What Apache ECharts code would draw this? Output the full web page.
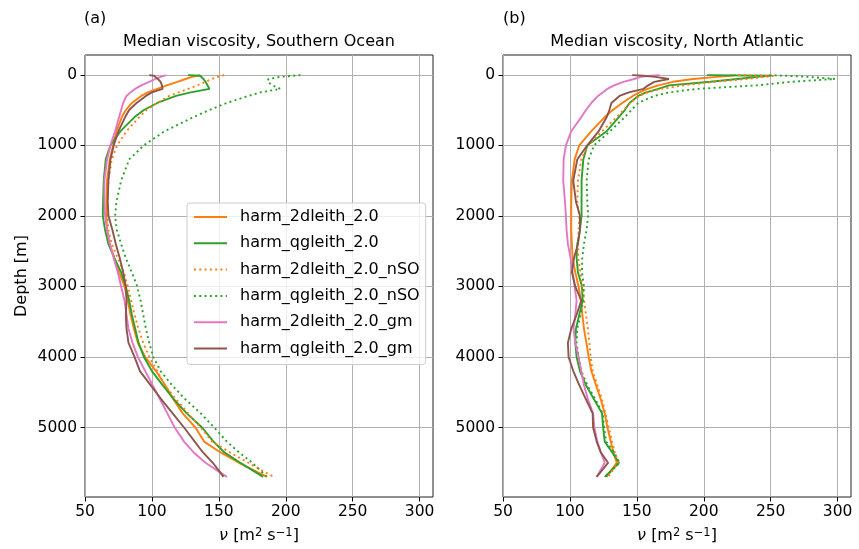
<!DOCTYPE html>
<html>
<head>
<meta charset="utf-8">
<script src="https://cdn.jsdelivr.net/npm/echarts@6/dist/echarts.min.js"></script>
<style>
  html, body { margin: 0; padding: 0; background: #fff; }
  #chart { width: 859px; height: 549px; }
</style>
</head>
<body>
<div id="chart"></div>
<script>
// depth levels [m], shared by all profiles
const depth = [5, 15, 30, 60, 100, 150, 200, 250, 300, 400, 500, 600, 800, 1000, 1200, 1500, 1800, 2000, 2200, 2400, 2600, 2800, 3000, 3200, 3400, 3600, 3800, 4000, 4200, 4400, 4600, 4800, 5000, 5200, 5350, 5500, 5700];

// Southern Ocean median viscosity [m2/s]
const so2d = [136, 134, 130, 125, 119, 111, 104, 97, 92, 85, 80.5, 77.5, 73.5, 71, 68.5, 66.5, 66, 66, 66.5, 68.5, 72, 75.5, 79.5, 82, 84, 86.5, 89.5, 95, 103, 110, 116, 123, 132.5, 139, 151, 165, 186];
const soQg = [127, 136, 137, 138.5, 140, 141.5, 143, 129, 118, 104, 94, 87, 76.5, 69, 65.5, 64, 63.5, 63.3, 65, 67.5, 72, 77, 80.5, 83, 85, 87.5, 90, 94, 100, 108, 116.5, 126, 137.5, 146, 154, 166, 183];
const so2dNso = [154, 152, 149, 145, 140, 134, 127, 120, 113, 104, 96, 90.5, 81, 74, 70, 67.5, 66.5, 66.5, 67.5, 70, 74.5, 79, 82, 84.5, 87, 90, 93.5, 98, 104, 109.5, 118, 127, 136.5, 145, 158, 172, 191];
const soQgNso = [211, 205, 196, 187, 186.5, 190, 196, 181, 172, 156, 143, 131, 109.5, 94, 83, 77, 73.5, 72.5, 73.8, 77, 80.5, 85, 89, 91.5, 93.5, 95.5, 98, 101, 106.5, 115, 125, 136.5, 146.5, 156, 165, 175, 186];
const so2dGm = [110.5, 109, 106.5, 102.5, 98, 92, 87.5, 84, 81, 78.5, 77, 75.5, 72.5, 69, 66.5, 64.5, 64.5, 65, 66.5, 68.5, 71.5, 74.5, 77, 79.5, 81, 82.5, 85.5, 89.5, 95, 100.5, 106, 111.5, 117, 124, 131, 140, 156];
const soQgGm = [98, 101.5, 102, 104.5, 106.5, 107.5, 108, 100, 95.5, 88.5, 83, 80, 75, 71.5, 69, 67.5, 67, 67.5, 70.5, 73, 76, 78.5, 80.5, 81, 80.5, 81, 82.5, 87, 91, 99, 107, 115.5, 124, 132, 138, 145.5, 153.5];

// North Atlantic median viscosity [m2/s]
const na2d = [224, 220, 210, 192, 177, 166, 158, 152, 147, 139, 132, 126, 116, 107, 103.5, 101.5, 101, 101, 101, 101.5, 102, 104, 106.5, 108.2, 109.3, 110.5, 112.3, 114, 116, 119.5, 123, 126, 128, 130.5, 132.5, 135, 127.3];
const naQg = [202.5, 249.5, 240, 225, 205, 174, 166, 157, 151, 144.5, 141, 136.5, 127.5, 113, 110, 108.7, 108.7, 108.7, 107.5, 105.5, 105, 106, 109, 109.5, 107, 104.5, 104, 105, 107.5, 112, 118, 124, 124.8, 126, 131.5, 136.7, 126];
const na2dNso = [226, 253, 246, 232, 208, 185, 168, 158, 152, 145, 140, 135, 124, 113.5, 108.5, 106, 105.5, 107, 106.5, 106, 106.3, 107.8, 109.2, 110.6, 112, 113.4, 114.5, 115.5, 117, 120.5, 124, 126.5, 129, 131.5, 133.5, 136, 128.5];
const naQgNso = [249, 262, 278, 298, 265, 240, 195, 174, 163, 151, 146, 141, 130, 118, 114, 112.5, 113, 113.6, 112.4, 110.5, 109.2, 109, 110.5, 110, 108, 105.5, 105, 106.5, 108.5, 113, 119, 124.5, 125.5, 127, 133, 137, 126.5];
const na2dGm = [167, 160, 153, 148, 140, 133, 128, 124.5, 121, 116, 112, 108.5, 101, 97, 95.3, 95, 96.3, 97, 97.5, 98.5, 100.5, 102, 103.5, 105, 104, 102.7, 104, 106.5, 108.5, 110.5, 113.5, 117.3, 118.3, 120.5, 123, 126, 120];
const naQgGm = [146.5, 155, 164, 174, 163, 158.5, 155, 144, 137, 131, 129.5, 127.5, 121.5, 113, 105.5, 102.5, 104.5, 107.5, 107.5, 106, 103, 101.5, 104, 108.5, 105, 101, 98.5, 99, 102.5, 107, 112, 117, 117.3, 120, 123, 128.5, 120];

const names = ["harm_2dleith_2.0", "harm_qgleith_2.0", "harm_2dleith_2.0_nSO", "harm_qgleith_2.0_nSO", "harm_2dleith_2.0_gm", "harm_qgleith_2.0_gm"];
const colors = ["#ff7f0e", "#2ca02c", "#ff7f0e", "#2ca02c", "#e377c2", "#8c564b"];
const dotted = [false, false, true, true, false, false];
const titles = ["Median viscosity, Southern Ocean", "Median viscosity, North Atlantic"];
const panels = ["(a)", "(b)"];
const xTickValues = [50, 100, 150, 200, 250, 300];
const yTickValues = [0, 1000, 2000, 3000, 4000, 5000];
const xRange = [50, 310];
const yRange = [-280, 5985];

const font = "DejaVu Sans";
const grids = [
  { left: 85, top: 55, width: 348, height: 445 },
  { left: 503, top: 55, width: 348, height: 445 },
];

function pairs(values) {
  return values.map((v, i) => [v, depth[i]]);
}

const profiles = [
  [so2d, soQg, so2dNso, soQgNso, so2dGm, soQgGm],
  [na2d, naQg, na2dNso, naQgNso, na2dGm, naQgGm],
];

const series = [];
profiles.forEach((set, g) => {
  set.forEach((vals, k) => {
    series.push({
      name: names[k],
      type: "line",
      xAxisIndex: g,
      yAxisIndex: g,
      data: pairs(vals),
      symbol: "none",
      color: colors[k],
      lineStyle: { width: 1.9, color: colors[k], type: dotted[k] ? [2, 3.3] : "solid" },
      emphasis: { disabled: true },
    });
  });
});

const txt = { fontFamily: font, color: "#000" };
const splitLine = { show: true, lineStyle: { color: "#b0b0b0", width: 1 } };
const tick = { show: true, inside: false, length: 4.5, lineStyle: { color: "#000", width: 1 } };
const plain = (v) => String(v);
// nu [m^2 s^-1] with real superscripts
const xName = "{it|ν} [m{sup|2} s{sup|−1}]";
const xNameStyle = {
  ...txt,
  fontSize: 16,
  rich: {
    it: { ...txt, fontSize: 16, fontStyle: "italic" },
    sup: { ...txt, fontSize: 11.5, verticalAlign: "top", padding: [0, 0, 6, 0] },
  },
};

const chart = echarts.init(document.getElementById("chart"));
chart.setOption({
  animation: false,
  title: [
    { text: titles[0], left: 259, top: 34, textAlign: "center", padding: 0, textStyle: { ...txt, fontSize: 16, fontWeight: "normal" } },
    { text: titles[1], left: 677, top: 34, textAlign: "center", padding: 0, textStyle: { ...txt, fontSize: 16, fontWeight: "normal" } },
    { text: panels[0], left: 84, top: 11, padding: 0, textStyle: { ...txt, fontSize: 16, fontWeight: "normal" } },
    { text: panels[1], left: 503, top: 11, padding: 0, textStyle: { ...txt, fontSize: 16, fontWeight: "normal" } },
  ],
  grid: grids.map((g) => ({ ...g, show: true, borderColor: "#222", borderWidth: 1, backgroundColor: "transparent" })),
  legend: {
    data: names,
    orient: "vertical",
    left: 187,
    top: 203,
    itemWidth: 33,
    itemHeight: 14,
    itemGap: 10.3,
    padding: [6, 6, 8, 6],
    backgroundColor: "rgba(255,255,255,0.8)",
    borderColor: "#cccccc",
    borderWidth: 1,
    borderRadius: 3,
    selectedMode: false,
    itemStyle: { opacity: 0 },
    textStyle: { ...txt, fontSize: 16, padding: [0, 0, 0, 8] },
  },
  xAxis: grids.map((g, i) => ({
    type: "value",
    gridIndex: i,
    min: xRange[0],
    max: xRange[1],
    name: xName,
    nameLocation: "middle",
    nameGap: 30,
    nameTextStyle: xNameStyle,
    axisLine: { show: false, onZero: false },
    axisTick: { ...tick, customValues: xTickValues },
    axisLabel: { ...txt, fontSize: 15.5, margin: 7, customValues: xTickValues, formatter: plain },
    splitLine,
  })),
  yAxis: grids.map((g, i) => ({
    type: "value",
    gridIndex: i,
    inverse: true,
    min: yRange[0],
    max: yRange[1],
    name: i === 0 ? "Depth [m]" : "",
    nameLocation: "middle",
    nameGap: 55,
    nameTextStyle: { ...txt, fontSize: 16 },
    axisLine: { show: false, onZero: false },
    axisTick: { ...tick, customValues: yTickValues },
    axisLabel: { ...txt, fontSize: 15.5, margin: 8, customValues: yTickValues, formatter: plain },
    splitLine,
  })),
  series,
});
</script>
</body>
</html>
